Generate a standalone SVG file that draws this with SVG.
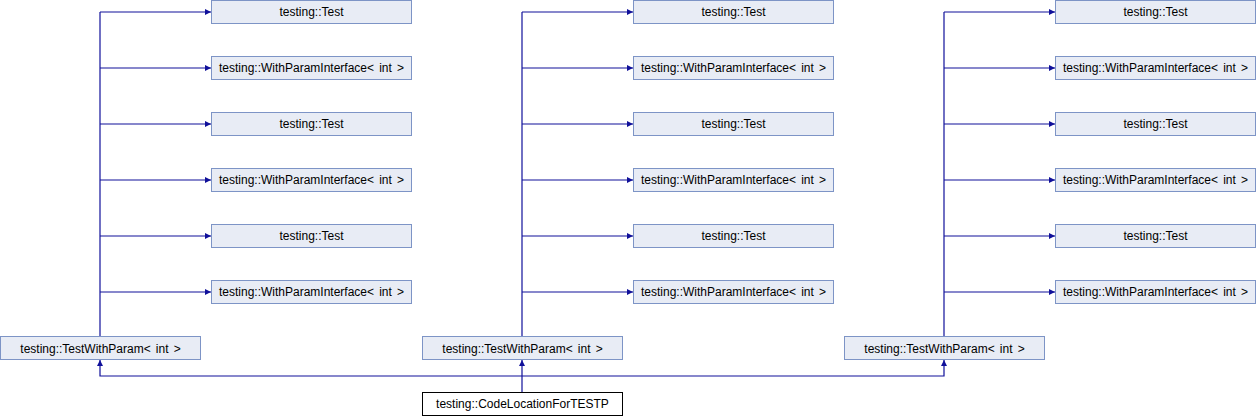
<svg xmlns="http://www.w3.org/2000/svg" width="1256" height="416" viewBox="0 0 1256 416">
<style>
.n rect{fill:#e8ecf5;stroke:#7d94c6;stroke-width:1}
.n.root rect{fill:#ffffff;stroke:#000000}
text{font-family:"Liberation Sans",Arial,sans-serif;font-size:12px;fill:#000;text-anchor:middle;word-spacing:1.8px}
.e path{fill:none;stroke:#10109a;stroke-width:1.2}
</style>
<defs>
<marker id="ah" viewBox="0 0 10 10" refX="10" refY="5" markerWidth="6" markerHeight="6" markerUnits="userSpaceOnUse" orient="auto">
<path d="M0,0 L10,5 L0,10 z" fill="#10109a"/>
</marker>
</defs>
<rect width="1256" height="416" fill="#ffffff"/>
<g class="e" id="connectors">
<path d="M100,336V12" />
<path d="M100,12H211" marker-end="url(#ah)"/>
<path d="M100,68H211" marker-end="url(#ah)"/>
<path d="M100,124H211" marker-end="url(#ah)"/>
<path d="M100,180H211" marker-end="url(#ah)"/>
<path d="M100,236H211" marker-end="url(#ah)"/>
<path d="M100,292H211" marker-end="url(#ah)"/>
<path d="M522,336V12" />
<path d="M522,12H633" marker-end="url(#ah)"/>
<path d="M522,68H633" marker-end="url(#ah)"/>
<path d="M522,124H633" marker-end="url(#ah)"/>
<path d="M522,180H633" marker-end="url(#ah)"/>
<path d="M522,236H633" marker-end="url(#ah)"/>
<path d="M522,292H633" marker-end="url(#ah)"/>
<path d="M944,336V12" />
<path d="M944,12H1055" marker-end="url(#ah)"/>
<path d="M944,68H1055" marker-end="url(#ah)"/>
<path d="M944,124H1055" marker-end="url(#ah)"/>
<path d="M944,180H1055" marker-end="url(#ah)"/>
<path d="M944,236H1055" marker-end="url(#ah)"/>
<path d="M944,292H1055" marker-end="url(#ah)"/>
<path d="M522,392V360" marker-end="url(#ah)"/>
<path d="M522,376H100V360" marker-end="url(#ah)"/>
<path d="M522,376H944V360" marker-end="url(#ah)"/>
</g>
<g class="n" id="twp1"><rect x="0.5" y="336.5" width="200" height="23"/><text x="100.5" y="352.5">testing::TestWithParam&lt; int &gt;</text></g>
<g class="n" id="twp2"><rect x="422.5" y="336.5" width="200" height="23"/><text x="522.5" y="352.5">testing::TestWithParam&lt; int &gt;</text></g>
<g class="n" id="twp3"><rect x="844.5" y="336.5" width="200" height="23"/><text x="944.5" y="352.5">testing::TestWithParam&lt; int &gt;</text></g>
<g class="n root" id="codeloc"><rect x="422.5" y="392.5" width="200" height="23"/><text x="522.5" y="408">testing::CodeLocationForTESTP</text></g>
<g class="n" id="c1t1"><rect x="211.5" y="0.5" width="200" height="23"/><text x="311.5" y="16">testing::Test</text></g>
<g class="n" id="c1w1"><rect x="211.5" y="56.5" width="200" height="23"/><text x="311.5" y="72">testing::WithParamInterface&lt; int &gt;</text></g>
<g class="n" id="c1t2"><rect x="211.5" y="112.5" width="200" height="23"/><text x="311.5" y="128">testing::Test</text></g>
<g class="n" id="c1w2"><rect x="211.5" y="168.5" width="200" height="23"/><text x="311.5" y="184">testing::WithParamInterface&lt; int &gt;</text></g>
<g class="n" id="c1t3"><rect x="211.5" y="224.5" width="200" height="23"/><text x="311.5" y="240">testing::Test</text></g>
<g class="n" id="c1w3"><rect x="211.5" y="280.5" width="200" height="23"/><text x="311.5" y="296">testing::WithParamInterface&lt; int &gt;</text></g>
<g class="n" id="c2t1"><rect x="633.5" y="0.5" width="200" height="23"/><text x="733.5" y="16">testing::Test</text></g>
<g class="n" id="c2w1"><rect x="633.5" y="56.5" width="200" height="23"/><text x="733.5" y="72">testing::WithParamInterface&lt; int &gt;</text></g>
<g class="n" id="c2t2"><rect x="633.5" y="112.5" width="200" height="23"/><text x="733.5" y="128">testing::Test</text></g>
<g class="n" id="c2w2"><rect x="633.5" y="168.5" width="200" height="23"/><text x="733.5" y="184">testing::WithParamInterface&lt; int &gt;</text></g>
<g class="n" id="c2t3"><rect x="633.5" y="224.5" width="200" height="23"/><text x="733.5" y="240">testing::Test</text></g>
<g class="n" id="c2w3"><rect x="633.5" y="280.5" width="200" height="23"/><text x="733.5" y="296">testing::WithParamInterface&lt; int &gt;</text></g>
<g class="n" id="c3t1"><rect x="1055.5" y="0.5" width="200" height="23"/><text x="1155.5" y="16">testing::Test</text></g>
<g class="n" id="c3w1"><rect x="1055.5" y="56.5" width="200" height="23"/><text x="1155.5" y="72">testing::WithParamInterface&lt; int &gt;</text></g>
<g class="n" id="c3t2"><rect x="1055.5" y="112.5" width="200" height="23"/><text x="1155.5" y="128">testing::Test</text></g>
<g class="n" id="c3w2"><rect x="1055.5" y="168.5" width="200" height="23"/><text x="1155.5" y="184">testing::WithParamInterface&lt; int &gt;</text></g>
<g class="n" id="c3t3"><rect x="1055.5" y="224.5" width="200" height="23"/><text x="1155.5" y="240">testing::Test</text></g>
<g class="n" id="c3w3"><rect x="1055.5" y="280.5" width="200" height="23"/><text x="1155.5" y="296">testing::WithParamInterface&lt; int &gt;</text></g>
</svg>
